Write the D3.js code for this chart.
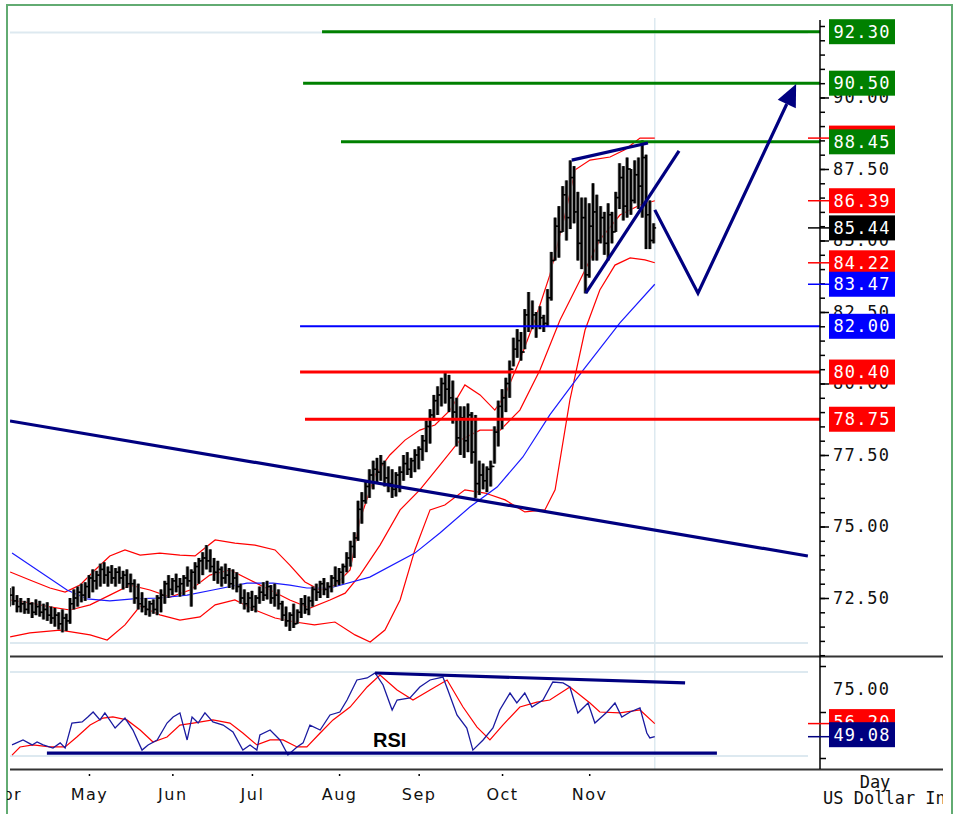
<!DOCTYPE html>
<html><head><meta charset="utf-8">
<script src="https://cdn.jsdelivr.net/npm/d3@7/dist/d3.min.js"></script>
<style>body{margin:0;background:#fff}svg{display:block}</style>
</head><body><svg id="c" width="956" height="814"></svg>
<script>
// ---- data (trading-day index from Apr 1 2008) ----
const months = ["Apr","May","Jun","Jul","Aug","Sep","Oct","Nov"];
const monthIdx = [0,22,44,65,88,109,131,154];
const priceTicks = [72.5,75,77.5,80,82.5,85,87.5,90];
const rsiTicks = [87.5,62.5,37.5];
const highs = [72.8,72.85,72.9,72.6,72.5,72.4,72.5,72.35,72.45,72.4,72.3,72.35,72.2,72.15,72.0,72.1,71.95,72.5,72.8,72.9,73.0,73.05,73.3,73.5,73.45,73.7,73.75,73.6,73.65,73.55,73.6,73.45,73.5,73.35,73.15,73.0,72.7,72.5,72.4,72.45,72.6,72.8,73.1,73.3,73.2,73.35,73.2,73.3,73.6,73.5,73.75,73.9,74.1,74.35,74.2,73.9,73.8,73.6,73.7,73.55,73.5,73.4,73.0,72.8,72.7,72.75,72.6,72.9,73.05,73.1,72.95,73.0,72.8,72.4,72.2,72.0,72.3,72.1,72.5,72.6,72.55,72.9,73.0,73.1,73.2,73.05,73.3,73.6,73.55,73.7,74.1,74.5,74.8,75.9,76.2,76.6,77.0,77.3,77.4,77.5,77.3,77.1,77.0,76.9,77.1,77.5,77.6,77.4,77.7,77.8,78.2,78.7,79.1,79.6,79.9,80.2,80.4,80.3,80.1,79.5,79.2,79.2,79.3,79.0,78.9,77.3,77.2,77.1,77.3,78.5,79.4,79.8,80.2,80.8,81.6,81.9,81.8,82.6,83.2,82.9,82.5,82.7,82.4,83.3,84.6,85.8,86.2,86.9,87.1,87.8,87.6,86.7,86.5,86.5,86.3,87.0,86.6,86.2,86.0,86.3,86.0,86.7,87.7,87.6,87.9,87.5,87.8,87.9,88.5,88.0,86.4,85.6];
const lows = [72.2,72.2,72.25,72.0,72.0,71.95,71.95,71.8,71.9,71.85,71.75,71.7,71.6,71.5,71.4,71.3,71.35,71.6,72.1,72.2,72.35,72.4,72.5,72.7,72.8,72.9,73.0,72.9,73.0,72.9,73.0,72.8,72.85,72.7,72.3,72.1,72.0,71.9,71.85,71.95,71.9,72.0,72.3,72.5,72.6,72.7,72.55,72.6,72.9,72.2,72.8,73.0,73.3,73.5,73.4,73.1,73.0,72.9,73.0,72.85,72.8,72.7,72.3,72.1,72.0,72.05,72.0,72.3,72.4,72.45,72.3,72.2,72.1,71.7,71.5,71.35,71.45,71.6,71.8,71.95,71.9,72.2,72.4,72.5,72.6,72.5,72.7,72.9,72.95,73.0,73.4,73.6,73.9,74.5,75.1,75.8,76.0,76.3,76.5,76.6,76.4,76.2,76.0,76.05,76.2,76.6,76.8,76.7,76.9,77.0,77.3,77.6,77.9,78.7,78.9,79.2,79.3,79.0,78.6,77.8,77.5,77.4,77.6,77.2,76.0,76.1,76.3,76.2,76.4,77.2,77.8,78.4,79.0,79.5,80.6,80.9,80.8,81.2,81.8,81.9,81.6,81.9,81.8,82.0,82.9,84.3,84.4,85.3,85.0,85.4,85.6,84.3,84.0,83.15,83.7,84.3,84.3,84.9,84.5,84.3,84.9,85.3,86.1,85.7,85.8,85.9,86.3,86.1,85.8,84.7,84.7,84.9];
const closes = [72.5,72.6,72.4,72.2,72.3,72.1,72.3,72.0,72.2,72.0,72.1,71.9,71.8,71.9,71.6,71.8,71.7,72.3,72.5,72.7,72.6,72.9,73.2,73.1,73.3,73.5,73.3,73.4,73.2,73.4,73.2,73.3,73.0,73.0,72.5,72.3,72.2,72.1,72.3,72.1,72.5,72.6,73.0,72.8,73.1,72.9,73.0,73.2,73.1,73.4,73.6,73.8,73.9,73.8,73.6,73.4,73.5,73.2,73.3,73.0,73.2,72.9,72.5,72.3,72.5,72.2,72.5,72.7,72.6,72.9,72.5,72.6,72.3,71.9,71.7,71.9,71.6,72.0,72.3,72.1,72.4,72.8,72.7,73.0,72.8,72.9,73.2,73.1,73.4,73.6,73.9,74.3,74.6,75.6,75.9,76.4,76.8,77.0,76.9,77.2,76.7,76.5,76.3,76.8,76.9,77.2,77.0,77.3,77.5,77.7,78.0,78.5,78.9,79.4,79.6,80.0,79.8,79.5,79.0,78.1,78.8,78.0,78.9,77.6,76.5,76.8,76.6,77.0,77.1,78.3,79.2,79.5,80.0,80.5,81.2,81.5,81.1,82.4,82.0,82.4,82.0,82.3,82.1,83.0,84.3,85.5,85.3,86.6,85.8,87.2,86.0,84.9,85.8,83.8,85.5,86.0,85.0,85.8,84.9,85.9,85.3,86.5,87.2,86.2,87.5,86.4,87.3,86.9,87.9,85.9,85.0,85.44];
// indicator readings [index, value]
const bbUpper = [[1.2,73.41],[6.4,73.13],[11.7,72.85],[15.7,72.71],[19.6,72.95],[23.6,73.48],[27.5,73.97],[31.5,74.18],[35.5,74.0],[40.7,74.07],[46,74.0],[50,73.97],[52.6,74.25],[55.3,74.53],[60.5,74.42],[65.8,74.35],[71.1,74.18],[75,73.65],[79,73.06],[83,72.78],[86.9,72.95],[90.9,73.48],[93.5,75.23],[97.5,76.8],[101.4,77.5],[105.4,78.02],[109.3,78.37],[113.3,78.55],[117.3,79.07],[121.2,79.95],[125.2,79.6],[129.1,79.07],[131.8,79.6],[135.7,80.82],[139.7,82.22],[143.6,83.79],[147.6,85.89],[150.3,87.47],[154.2,87.81],[159.5,87.92],[163.4,88.17],[167.4,88.58],[171.3,88.58]];
const bbMid = [[1.2,72.43],[6.4,72.33],[11.7,72.19],[17,72.08],[22.3,72.26],[27.5,72.6],[32.8,72.95],[38.1,72.78],[43.4,72.53],[48.7,72.78],[53.9,73.3],[59.2,73.48],[64.5,73.13],[69.8,72.78],[75,72.43],[80.3,72.15],[85.6,72.43],[89.6,72.67],[93.5,73.3],[98.8,74.35],[104.1,75.58],[109.3,76.28],[114.6,77.15],[119.9,78.02],[125.2,78.37],[130.5,78.37],[135.7,79.07],[141,80.47],[146.3,82.22],[151.6,83.62],[156.8,85.02],[162.1,85.89],[167.4,86.24],[171.3,86.39]];
const bbLower = [[1.2,71.14],[6.4,71.28],[14.4,71.38],[22.3,71.21],[26.8,71.03],[31.5,71.56],[35.5,72.22],[40.7,71.91],[46,71.73],[51.3,71.84],[55.3,72.26],[60.5,72.43],[65.8,72.08],[71.1,71.8],[76.4,71.66],[81.5,71.56],[86.9,71.66],[92.2,71.21],[96.2,70.96],[100.1,71.38],[104.1,72.43],[108,74.18],[112,75.58],[115.9,75.75],[121.2,76.28],[126.5,76.17],[131.8,75.93],[137,75.51],[142.3,75.58],[145,76.28],[148.9,79.42],[152.9,81.87],[156.8,83.27],[160.8,84.14],[164.8,84.39],[168.7,84.32],[171.3,84.22]];
const maLine = [[1.7,74.07],[16.2,72.78],[21.5,72.47],[27.5,72.4],[33.6,72.47],[40.7,72.5],[47.9,72.6],[54.7,72.78],[63.7,73.02],[70.6,73.02],[75,72.95],[79.5,72.85],[85.6,72.85],[96.1,73.23],[108,74.07],[114.6,74.77],[122.5,75.68],[129.7,76.38],[136.5,77.43],[143.6,78.9],[152.4,80.47],[162.1,82.12],[171.3,83.47]];
const rsi = [[1.7,44.6],[4.6,47.3],[7,44.6],[8.3,46.2],[9.9,44.6],[12.5,42.9],[14.4,45.7],[15.7,42.9],[17.5,56.5],[20.2,57.1],[21.7,59.8],[23.1,62.5],[24.9,58.2],[26.2,62],[28.9,53.8],[31.5,59.2],[33.6,52.7],[36,41.8],[37.6,44.6],[40,47.3],[42.6,56.5],[44.2,59.8],[46,62],[47.9,47.3],[49.2,59.8],[50.8,56.5],[52.6,62],[54.7,57.1],[57.4,55.4],[60,51.6],[62.6,41.8],[64.5,44.6],[66.3,41.8],[67.1,50],[69.8,52.7],[72.4,47.3],[74.5,39.1],[76.9,43.5],[78.5,45.7],[80.3,55.4],[83,52.7],[85.6,60.9],[88.2,62.5],[90.1,69],[92.7,79.9],[95.4,81],[97.5,83.7],[99.6,77.2],[102,63.6],[103.3,69],[106.7,70.1],[109.3,76.1],[112,79.9],[115.4,81.5],[116.7,74.5],[119.1,60.9],[121.7,53.8],[123.3,41.8],[126,47.3],[128.6,53.8],[130.4,63.6],[133.1,72.8],[134.9,67.4],[137,72.8],[138.9,65.2],[141.8,69],[144.4,78.8],[147.1,78.3],[148.9,76.1],[151,62],[153.7,67.4],[155.5,56.5],[158.7,62.5],[160.8,67.4],[162.6,59.8],[164.8,62.5],[167.4,64.7],[169.2,51.1],[170,48.4],[171.3,49.08]];
const rsiSignal = [[1.7,39.1],[3.8,43.5],[7.2,44.6],[11.7,43.5],[15.7,43.5],[18.8,48.9],[22.3,55.4],[25.7,59.2],[28.3,59.8],[32,58.2],[35.5,52.7],[38.9,46.2],[42.6,48.9],[46,55.4],[49.5,56.5],[54.7,58.2],[59.2,56.5],[62.6,51.1],[66.3,44.6],[69.8,47.3],[73.2,47.3],[76.9,43.5],[79.5,43.5],[83,51.1],[86.4,58.2],[90.9,65.2],[95.4,76.1],[98.8,82.6],[103.3,74.5],[107.5,69],[112,74.5],[116.5,79.9],[120.7,65.2],[124.4,54.3],[127.8,47.3],[131.2,55.4],[135.7,65.2],[140.2,67.9],[143.6,69],[148.9,76.1],[154.2,67.4],[156.8,62.5],[162.1,62],[167.4,63.6],[171.3,56.2]];
// analyst levels
const levelValues = [92.30, 90.50, 88.45, 82.00, 80.40, 78.75];
const levelColors = ["#008000","#008000","#008000","#0000ff","#ff0000","#ff0000"];
const levelStart = [83.5, 78.5, 88.5, 77.7, 77.7, 79.0];
const trendLine = [[1.16,78.69],[211.7,73.97]];
const wedgeTop = [[149.4,87.81],[169.5,88.41]];
const wedgeBottom = [[153.1,83.16],[177.7,88.13]];
const projection = [[171.3,86.07],[182.7,83.16],[208.6,90.47]];
const rsiSupport = [[10.9,40.2],[187.7,40.2]];
const rsiResist = [[97.5,83.7],[179.3,78.3]];
// right-hand value boxes
const priceBoxes = [
  {v:92.30,c:"#008000"},{v:90.50,c:"#008000"},{v:88.58,c:"#ff0000"},{v:88.45,c:"#008000"},
  {v:86.39,c:"#ff0000"},{v:85.44,c:"#000000"},{v:84.22,c:"#ff0000"},{v:83.47,c:"#0000ff"},
  {v:82.00,c:"#0000ff"},{v:80.40,c:"#ff0000"},{v:78.75,c:"#ff0000"}];
const priceMarkers = [{v:88.58,c:"#ff0000"},{v:86.39,c:"#ff0000"},{v:85.44,c:"#000000"},{v:84.22,c:"#ff0000"},{v:83.47,c:"#0000ff"}];
const rsiBoxes = [{v:56.20,c:"#ff0000"},{v:49.08,c:"#000080"}];

// ---- drawing ----
const svg = d3.select("#c");
const L = 10, R = 820;
const x = d3.scaleLinear().domain([0, 214.9]).range([5.6, 820]);
const y = d3.scaleLinear().domain([72.5, 92.3]).range([598, 31.7]);
const yr = d3.scaleLinear().domain([75, 50]).range([689, 735]);
const mono = "'DejaVu Sans Mono', monospace";

const defs = svg.append("defs");
defs.append("clipPath").attr("id","cp").append("rect").attr("x",L).attr("y",0).attr("width",R-L).attr("height",656);
defs.append("clipPath").attr("id","cr").append("rect").attr("x",L).attr("y",657).attr("width",R-L).attr("height",112);
defs.append("clipPath").attr("id","cf").append("rect").attr("x",7).attr("y",5).attr("width",936).attr("height",809);

// frame
svg.append("rect").attr("x",7).attr("y",5).attr("width",945).attr("height",820)
  .attr("fill","none").attr("stroke","#62ab72").attr("stroke-width",2);

// grid lines
const gl = svg.append("g").attr("stroke","#dde9f0").attr("stroke-width",2);
[y(92.27), y(70.93), 672, 756].forEach(v => gl.append("line").attr("x1",L).attr("x2",808).attr("y1",v).attr("y2",v));
gl.append("line").attr("x1",x(171.3)).attr("x2",x(171.3)).attr("y1",18).attr("y2",769).attr("stroke-width",1.5);

const line = d3.line().x(d=>x(d[0])).y(d=>y(d[1]));
const rline = d3.line().x(d=>x(d[0])).y(d=>yr(d[1]));

const gp = svg.append("g").attr("clip-path","url(#cp)");
[bbUpper,bbMid,bbLower].forEach(s => gp.append("path").attr("d",line(s)).attr("fill","none").attr("stroke","#ff0000").attr("stroke-width",1.2));
gp.append("path").attr("d",line(maLine)).attr("fill","none").attr("stroke","#1a1aff").attr("stroke-width",1.2);

// OHLC bars
const bars = gp.append("g").attr("stroke","#000").attr("stroke-width",2);
highs.forEach((h,i)=>{
  const xi = x(i), o = i>0 ? closes[i-1] : closes[i];
  bars.append("line").attr("x1",xi).attr("x2",xi).attr("y1",y(h)).attr("y2",y(lows[i])).attr("stroke","#666").attr("stroke-width",3.5);
  bars.append("line").attr("x1",xi).attr("x2",xi).attr("y1",y(h)).attr("y2",y(lows[i]));
  bars.append("line").attr("x1",xi-2.5).attr("x2",xi).attr("y1",y(o)).attr("y2",y(o)).attr("stroke-width",1.5);
  bars.append("line").attr("x1",xi).attr("x2",xi+2.5).attr("y1",y(closes[i])).attr("y2",y(closes[i])).attr("stroke-width",1.5);
});

// level lines
levelValues.forEach((v,k)=>{
  gp.append("line").attr("x1",x(levelStart[k])).attr("x2",829).attr("y1",y(v)).attr("y2",y(v))
    .attr("stroke",levelColors[k]).attr("stroke-width",levelColors[k]==="#0000ff"?2:3);
});
// analyst navy lines
const navy = "#000080";
[trendLine,wedgeTop,wedgeBottom].forEach(s=>gp.append("path").attr("d",line(s)).attr("fill","none").attr("stroke",navy).attr("stroke-width",3.2));
// projection with arrow head
{
  const p = projection.map(d=>[x(d[0]),y(d[1])]);
  const tip = p[2], b = p[1];
  const dx = tip[0]-b[0], dy = tip[1]-b[1], len = Math.hypot(dx,dy), ux=dx/len, uy=dy/len;
  const base = [tip[0]-22*ux, tip[1]-22*uy];
  svg.append("path").attr("d",d3.line()([p[0],p[1],base])).attr("fill","none").attr("stroke",navy).attr("stroke-width",3.2);
  svg.append("path").attr("d",d3.line()([tip,[base[0]+10*(-uy),base[1]+10*ux],[base[0]-10*(-uy),base[1]-10*ux]])+"Z").attr("fill",navy);
}

// RSI panel
const gr = svg.append("g").attr("clip-path","url(#cr)");
gr.append("path").attr("d",rline(rsiSignal)).attr("fill","none").attr("stroke","#ff0000").attr("stroke-width",1.2);
gr.append("path").attr("d",rline(rsi)).attr("fill","none").attr("stroke","#1a1aa0").attr("stroke-width",1.3);
[rsiSupport,rsiResist].forEach(s=>gr.append("path").attr("d",rline(s)).attr("fill","none").attr("stroke",navy).attr("stroke-width",3.2));
svg.append("text").attr("x",373).attr("y",747).text("RSI").attr("font-family","Arial, 'Liberation Sans', sans-serif").attr("font-weight","bold").attr("font-size",20).attr("fill","#000");

// panel separators
svg.append("line").attr("x1",L).attr("x2",943).attr("y1",656.5).attr("y2",656.5).attr("stroke","#333").attr("stroke-width",2);
svg.append("line").attr("x1",L).attr("x2",943).attr("y1",769.5).attr("y2",769.5).attr("stroke","#333").attr("stroke-width",2);

// right axis
svg.append("line").attr("x1",R).attr("x2",R).attr("y1",20).attr("y2",769).attr("stroke","#000").attr("stroke-width",1.5);
const minor = d3.range(70.5, 92.6, 0.5).filter(v=>y(v)>20 && y(v)<656);
const ax1 = svg.append("g").attr("transform",`translate(${R},0)`).call(d3.axisRight(y).tickValues(minor).tickSize(5).tickFormat(""));
const ax2 = svg.append("g").attr("transform",`translate(${R},0)`).call(d3.axisRight(y).tickValues(priceTicks).tickSize(9).tickPadding(4).tickFormat(d3.format(".2f")));
const ax3 = svg.append("g").attr("transform",`translate(${R},0)`).call(d3.axisRight(yr).tickValues(rsiTicks).tickSize(6).tickFormat(""));
const ax4 = svg.append("g").attr("transform",`translate(${R},0)`).call(d3.axisRight(yr).tickValues([75]).tickSize(0).tickPadding(13).tickFormat(d3.format(".2f")));
[ax1,ax2,ax3,ax4].forEach(a=>{a.select(".domain").remove(); a.selectAll("line").attr("stroke","#000").attr("stroke-width",1.5);
  a.selectAll("text").attr("font-family",mono).attr("font-size",17).attr("letter-spacing",1.2).attr("fill","#111");});

// markers
priceMarkers.forEach(m=>svg.append("line").attr("x1",808).attr("x2",829).attr("y1",y(m.v)).attr("y2",y(m.v)).attr("stroke",m.c).attr("stroke-width",1.5));
rsiBoxes.forEach(m=>svg.append("line").attr("x1",808).attr("x2",829).attr("y1",yr(m.v)).attr("y2",yr(m.v)).attr("stroke",m.c).attr("stroke-width",1.5));

function box(v, c, yy){
  const cy = yy(v) - (yy===yr ? 2 : 0);
  svg.append("rect").attr("x",829).attr("y",cy-12.5).attr("width",66).attr("height",25).attr("fill",c);
  svg.append("text").attr("x",862).attr("y",cy).attr("dy","0.36em").attr("text-anchor","middle")
    .attr("font-family",mono).attr("font-size",17).attr("letter-spacing",1.2).attr("fill","#fff").text(v.toFixed(2));
}
priceBoxes.forEach(b=>box(b.v,b.c,y));
rsiBoxes.forEach(b=>box(b.v,b.c,yr));

// bottom axis
const xa = svg.append("g").attr("transform","translate(0,769)").call(d3.axisBottom(x).tickValues(monthIdx).tickSize(7).tickPadding(13).tickFormat((d,i)=>months[i]));
xa.select(".domain").remove();
xa.selectAll("line").attr("stroke","#000").attr("stroke-width",1.5);
xa.selectAll("text").attr("font-family","'DejaVu Sans', sans-serif").attr("font-size",16).attr("letter-spacing",1.5).attr("fill","#111");
xa.attr("clip-path","url(#cf)");

const ft = svg.append("g").attr("clip-path","url(#cf)").attr("font-family",mono).attr("font-size",17).attr("fill","#111");
ft.append("text").attr("x",875).attr("y",788).attr("text-anchor","middle").text("Day");
ft.append("text").attr("x",823).attr("y",804).text("US Dollar Index");
</script></body></html>
